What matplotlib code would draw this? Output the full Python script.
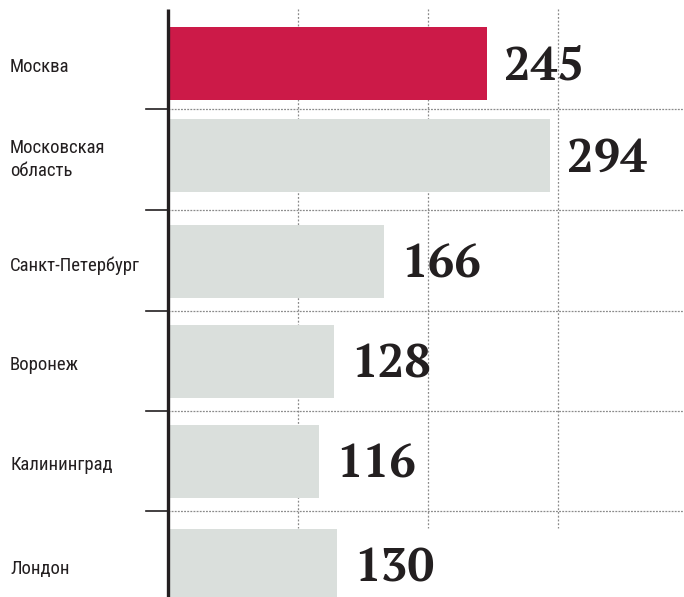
import matplotlib
matplotlib.use('Agg')
import matplotlib.pyplot as plt

# данные
cities = ['Москва', 'Московская\nобласть', 'Санкт-Петербург', 'Воронеж', 'Калининград', 'Лондон']
values = [245, 294, 166, 128, 116, 130]
grid_values = [100, 200, 300]

# разметка (в пикселях по вертикали)
row_y = [63, 155.5, 261.5, 361, 461.5, 565]
sep_y = [109, 210, 311, 411, 511]
W, H = 684, 597
x0, scale = 168, 1.3  # пиксель нуля и пикселей на единицу

red = '#CC1A48'
gray = '#DADFDC'
dark = '#231F20'
label_font = ['Roboto Condensed', 'PT Sans Narrow', 'DejaVu Sans']
value_font = ['PT Serif', 'Liberation Serif', 'DejaVu Serif']

fig = plt.figure(figsize=(W / 100, H / 100), dpi=100)
ax = fig.add_axes([0, 0, 1, 1])
ax.set_xlim(-x0 / scale, (W - x0) / scale)
ax.set_ylim(H, 0)
ax.axis('off')

# вертикальная сетка
for g in grid_values:
    ax.plot([g, g], [9, 528], color='#8a8a8a', lw=0.9, ls=(0, (1.5, 1.5)), zorder=1)

# горизонтальные разделители
for s in sep_y:
    ax.plot([-22 / scale, 0], [s, s], color=dark, lw=1.2, zorder=3)
    ax.plot([0, (W - x0) / scale], [s, s], color='#8a8a8a', lw=0.9, ls=(0, (1.5, 1.0)), zorder=1)

# столбцы
colors = [red] + [gray] * (len(values) - 1)
ax.barh(row_y, values, height=73, color=colors, left=0, zorder=2)

# ось
ax.plot([0, 0], [9, H], color=dark, lw=2.4, zorder=4, solid_capstyle='butt')

# подписи
for y, name, v in zip(row_y, cities, values):
    ax.text(-158 / scale, y + 4, name, ha='left', va='center', fontsize=13.5,
            family=label_font, color=dark, linespacing=1.4)
    ax.text(v + 17 / scale, y + 3, str(v), ha='left', va='center', fontsize=34,
            family=value_font, fontweight='bold', color=dark)

fig.savefig('out.png', dpi=100)
